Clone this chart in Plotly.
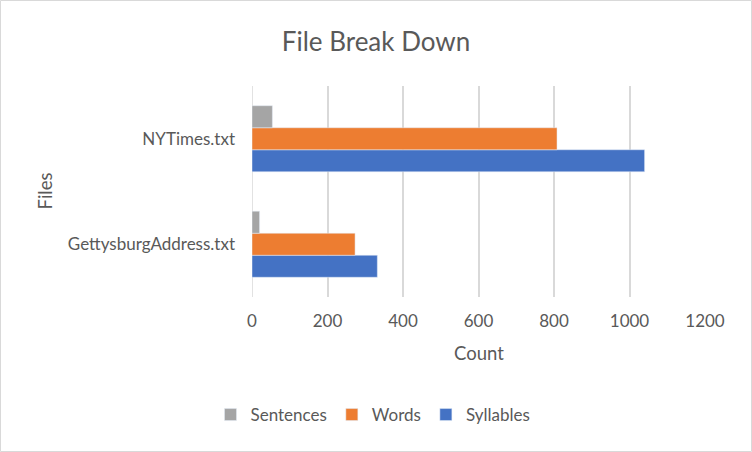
import plotly.graph_objects as go

files = ["GettysburgAddress.txt", "NYTimes.txt"]
sentences = [20, 54]
words = [273, 808]
syllables = [332, 1040]
x_ticks = [0, 200, 400, 600, 800, 1000, 1200]

W, H = 752, 452
ML, MR, MT, MB = 252, 47, 86, 155
PW, PH = W - ML - MR, H - MT - MB
FONT = "Lato, Open Sans, sans-serif"
GREY = "#595959"

fig = go.Figure()
fig.add_trace(go.Bar(y=files, x=syllables, name="Syllables", orientation="h", marker_color="#4472C4"))
fig.add_trace(go.Bar(y=files, x=words, name="Words", orientation="h", marker_color="#ED7D31"))
fig.add_trace(go.Bar(y=files, x=sentences, name="Sentences", orientation="h", marker_color="#A5A5A5"))

def px_x(p):
    return (p - ML) / PW

def px_y(p):
    return (H - MB - p) / PH

fig.update_layout(
    width=W, height=H,
    margin=dict(l=ML, r=MR, t=MT, b=MB, autoexpand=False),
    paper_bgcolor="white", plot_bgcolor="white",
    barmode="group", bargap=0.374, bargroupgap=0,
    font=dict(family=FONT, color=GREY, size=17),
    title=dict(text="File Break Down", x=0.5, xanchor="center", xref="container",
               y=1 - 42 / H, yanchor="middle", yref="container",
               font=dict(size=26, color=GREY, family=FONT)),
    xaxis=dict(range=[0, 1200], tickvals=x_ticks, showgrid=True, gridcolor="#d9d9d9",
               gridwidth=1.5, zeroline=False, showline=False, ticks="",
               ticklabelstandoff=12, tickfont=dict(size=17, color=GREY)),
    yaxis=dict(categoryorder="array", categoryarray=files, range=[-0.5, 1.5],
               showgrid=False, zeroline=False, showline=False, ticks="",
               ticklabelstandoff=16, tickfont=dict(size=17, color=GREY)),
    legend=dict(orientation="h", traceorder="reversed", x=px_x(373), xanchor="center",
                y=px_y(415), yanchor="middle", font=dict(size=17, color=GREY),
                itemwidth=30),
    showlegend=True,
)

fig.add_shape(type="line", xref="x", yref="paper", x0=0, x1=0, y0=0, y1=1,
              line=dict(color="#d9d9d9", width=1.5), layer="below")

fig.add_annotation(text="Count", xref="paper", yref="paper", x=0.5, y=px_y(353),
                   xanchor="center", yanchor="middle", showarrow=False,
                   font=dict(size=18.5, color=GREY, family=FONT))
fig.add_annotation(text="Files", xref="paper", yref="paper", x=px_x(44), y=0.5,
                   xanchor="center", yanchor="middle", showarrow=False, textangle=-90,
                   font=dict(size=18.5, color=GREY, family=FONT))

fig.add_shape(type="rect", xref="paper", yref="paper",
              x0=px_x(0.5), x1=px_x(W - 0.5), y0=px_y(H - 0.5), y1=px_y(0.5),
              line=dict(color="#d9d9d9", width=1), layer="below")

fig.write_html("out.html", config={"displayModeBar": False},
               post_script="document.body.style.margin='0';")
